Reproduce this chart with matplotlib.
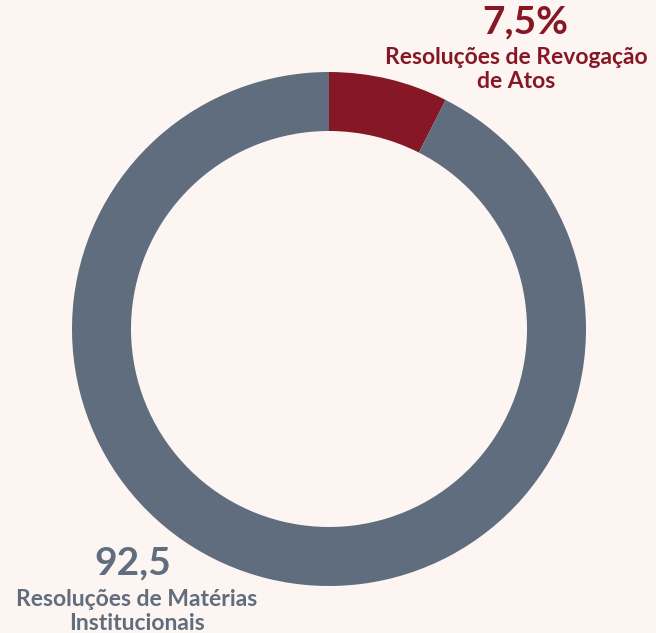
import matplotlib
matplotlib.use("Agg")
import matplotlib.pyplot as plt

categories = ["Resoluções de Revogação\nde Atos", "Resoluções de Matérias\nInstitucionais"]
values = [7.5, 92.5]
value_labels = ["7,5%", "92,5"]
colors = ["#861724", "#5F6D7E"]

W, H = 656, 633
bg = "#FDF5F2"
fig = plt.figure(figsize=(W / 100, H / 100), dpi=100)
fig.patch.set_facecolor(bg)
ax = fig.add_axes([0, 0, 1, 1])
ax.set_facecolor(bg)

cx, cy = 329, H - 329
R = 257
width = 59
ax.pie(values, colors=colors, startangle=90, counterclock=False, center=(cx, cy), radius=R,
       wedgeprops=dict(width=width, edgecolor="none"), frame=True)
ax.set_xlim(0, W)
ax.set_ylim(0, H)
ax.set_aspect("equal")
ax.axis("off")

font = "Lato"

def label(xv, yv, xc, yc, val, cat, color):
    ax.text(xv, H - yv, val, color=color, fontsize=28, fontweight="bold",
            family=font, ha="center", va="center")
    for i, line in enumerate(cat.split("\n")):
        ax.text(xc, H - (yc + 25 * i), line, color=color, fontsize=16.5,
                fontweight="bold", family=font, ha="center", va="center")

label(525, 22, 516, 57, value_labels[0], categories[0], colors[0])
label(133, 563, 137, 599, value_labels[1], categories[1], colors[1])

fig.savefig("out.png", dpi=100, facecolor=fig.get_facecolor())
